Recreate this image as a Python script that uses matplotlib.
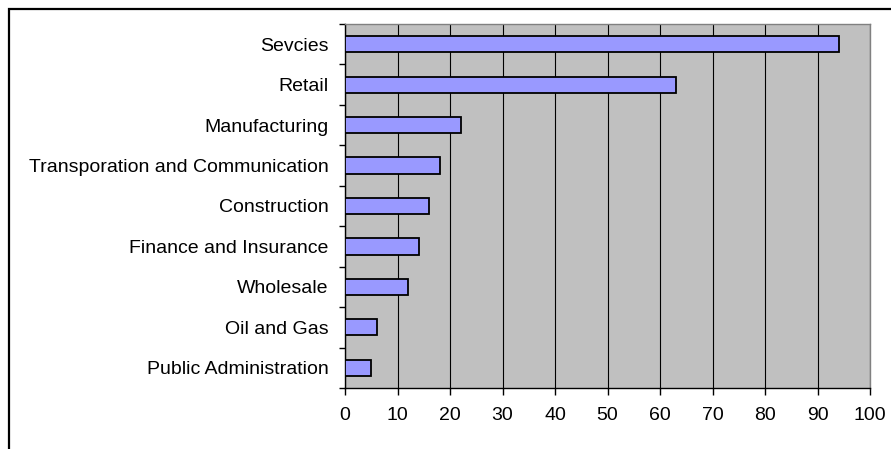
import matplotlib.pyplot as plt
from matplotlib.patches import Rectangle

plt.rcParams["font.family"] = ["Liberation Sans", "DejaVu Sans"]

# categories listed top to bottom, as in the chart
categories = [
    "Sevcies",
    "Retail",
    "Manufacturing",
    "Transporation and Communication",
    "Construction",
    "Finance and Insurance",
    "Wholesale",
    "Oil and Gas",
    "Public Administration",
]
values = [94, 63, 22, 18, 16, 14, 12, 6, 5]
x_ticks = [0, 10, 20, 30, 40, 50, 60, 70, 80, 90, 100]

W, H = 891, 449
fig = plt.figure(figsize=(W / 100, H / 100), dpi=100)
fig.patch.set_facecolor("white")

# outer chart border (cut off on the right and bottom)
fig.add_artist(Rectangle((8.5 / W, -0.1), 1.2, 1.1 - 8.5 / H,
                         transform=fig.transFigure, fill=False,
                         edgecolor="black", linewidth=1.6, clip_on=False))

left, right, top, bottom = 345, 870, 24, 388
ax = fig.add_axes([left / W, 1 - bottom / H, (right - left) / W, (bottom - top) / H])
ax.set_facecolor("#C0C0C0")

n = len(categories)
ypos = [n - 1 - i for i in range(n)]
ax.barh(ypos, values, height=0.4, color="#9999FF", edgecolor="black",
        linewidth=1.3, zorder=3)

fs = 14
ax.set_xlim(0, 100)
ax.set_ylim(-0.5, n - 0.5)
ax.set_xticks(x_ticks)
ax.tick_params(axis="x", direction="out", length=5, width=1, labelsize=fs,
               pad=9, color="black")
ax.grid(axis="x", color="black", linewidth=0.8, zorder=1)
ax.set_axisbelow(True)

ax.set_yticks(ypos)
ax.set_yticklabels(categories)
ax.tick_params(axis="y", which="major", length=0, labelsize=fs, pad=12)
ax.set_yticks([i - 0.5 for i in range(n + 1)], minor=True)
ax.tick_params(axis="y", which="minor", direction="out", length=4.5, width=1,
               color="black")

for side in ("top", "right"):
    ax.spines[side].set_color("#808080")
    ax.spines[side].set_linewidth(1)
for side in ("left", "bottom"):
    ax.spines[side].set_color("black")
    ax.spines[side].set_linewidth(1)

fig.savefig("out.png", dpi=100, facecolor="white")
